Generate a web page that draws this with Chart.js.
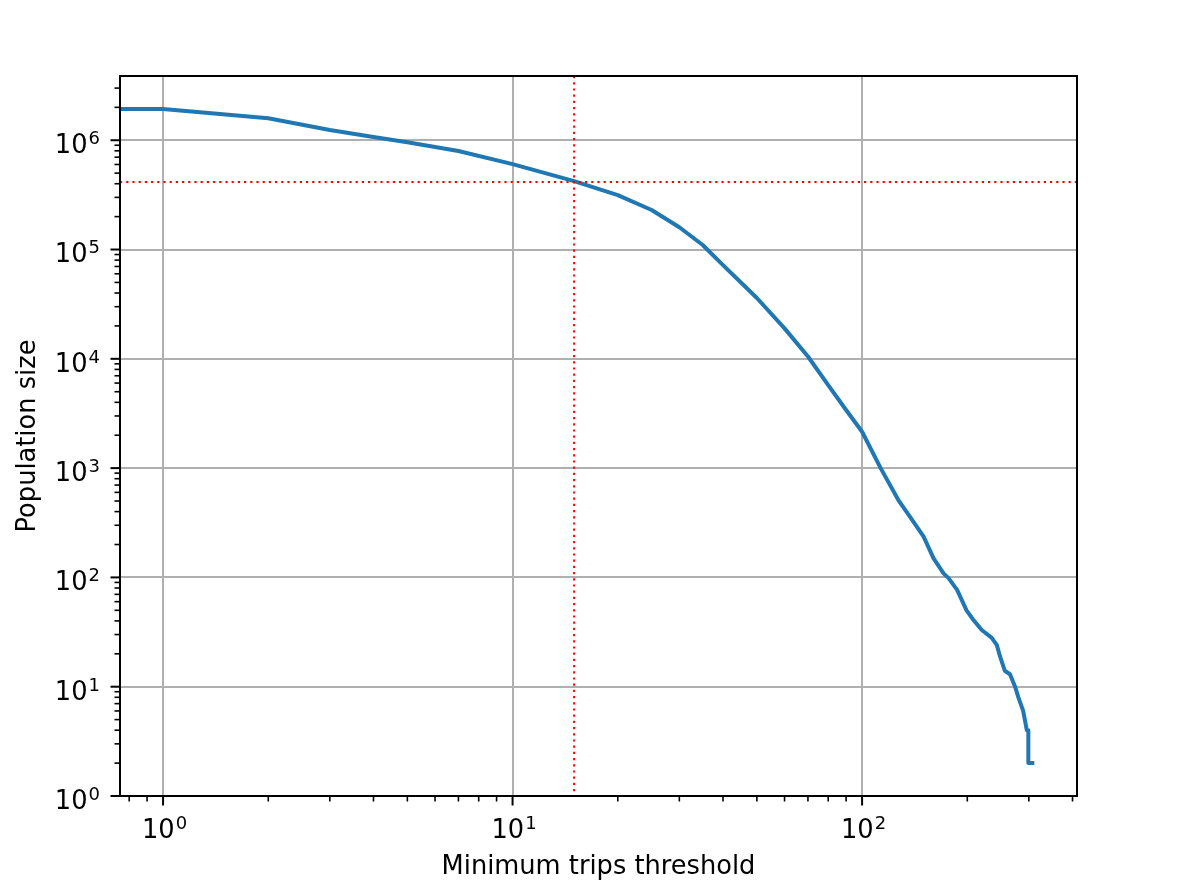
<!DOCTYPE html>
<html>
<head>
<meta charset="utf-8">
<script src="https://cdn.jsdelivr.net/npm/chart.js@4/dist/chart.umd.min.js"></script>
<style>
    body { margin: 0; background: #fff; }
    canvas { display: block; }
</style>
</head>
<body>
<canvas id="chart" width="1196" height="884"></canvas>
<script>
// minimum trips threshold (x) and resulting population size (y)
const trips = [0.5, 1, 2, 3, 4, 5, 7, 10, 15, 20, 25, 30, 35, 40, 50, 60, 70, 80, 90, 100,
    113, 127, 137, 150, 160, 171, 177, 187, 199, 208, 220, 235, 243, 248, 256, 265, 274, 280, 289, 296, 299, 299, 311];
const population = [1930000, 1930000, 1590000, 1240000, 1070000, 960000, 796000, 605000, 422000, 315000,
    230000, 160000, 110000, 72000, 36000, 19000, 10500, 5750, 3400, 2150,
    1000, 510, 360, 236, 150, 109, 98, 77, 50, 41, 33, 28, 24, 19, 14, 13, 10, 8, 6, 4, 4, 2, 2];

// chosen threshold, shown by the red dotted lines
const threshold = 15;
const populationAtThreshold = 414000;

const xDecades = [1, 10, 100];
const xTickLabels = ['10^0', '10^1', '10^2'];
const yDecades = [1, 10, 100, 1000, 10000, 100000, 1000000];
const yTickLabels = ['10^0', '10^1', '10^2', '10^3', '10^4', '10^5', '10^6'];

const FAMILY = 'DejaVu Sans';
const SIZE = 25.7;
const FONT = { family: FAMILY, size: SIZE };

function logTicks(decades, min, max) {
    const ticks = [];
    const all = [decades[0] / 10, ...decades];
    all.forEach(d => {
        for (let k = 1; k <= 9; k++) {
            const v = d * k;
            if (v >= min && v <= max) ticks.push({ value: v });
        }
    });
    return ticks;
}

const isMajor = (v, decades) => decades.includes(v);

// draws "10" with a smaller raised exponent, like matplotlib mathtext
function drawPower(ctx, label, x, baseline, align) {
    const [base, exp] = label.split('^');
    const mainFont = `${SIZE}px "${FAMILY}"`;
    const supFont = `${SIZE * 0.7}px "${FAMILY}"`;
    ctx.font = mainFont;
    const w1 = ctx.measureText(base).width;
    ctx.font = supFont;
    const w2 = ctx.measureText(exp).width;
    const start = align === 'right' ? x - w1 - w2 : x - (w1 + w2) / 2;
    ctx.textAlign = 'left';
    ctx.textBaseline = 'alphabetic';
    ctx.fillStyle = '#000';
    ctx.font = mainFont;
    ctx.fillText(base, start, baseline);
    ctx.font = supFont;
    ctx.fillText(exp, start + w1 + 1, baseline - 9);
}

const axesDecor = {
    id: 'axesDecor',
    afterDatasetsDraw(chart) {
        const { ctx, chartArea: a, scales: { x, y } } = chart;
        const tx = x.getPixelForValue(threshold);
        const ty = y.getPixelForValue(populationAtThreshold);
        ctx.save();
        ctx.beginPath();
        ctx.rect(a.left, a.top, a.right - a.left, a.bottom - a.top);
        ctx.clip();
        ctx.strokeStyle = '#ff0000';
        ctx.lineWidth = 2;
        ctx.setLineDash([2.2, 4]);
        ctx.beginPath();
        ctx.moveTo(tx, a.top);
        ctx.lineTo(tx, a.bottom);
        ctx.moveTo(a.left, ty);
        ctx.lineTo(a.right, ty);
        ctx.stroke();
        ctx.restore();
    },
    afterDraw(chart) {
        const { ctx, chartArea: a, scales: { x, y } } = chart;
        ctx.save();
        ctx.strokeStyle = '#000';
        x.ticks.forEach(t => {
            const major = isMajor(t.value, xDecades);
            const px = x.getPixelForValue(t.value);
            ctx.lineWidth = major ? 2 : 1.6;
            ctx.beginPath();
            ctx.moveTo(px, a.bottom);
            ctx.lineTo(px, a.bottom + (major ? 9.5 : 5.5));
            ctx.stroke();
            if (major) {
                drawPower(ctx, xTickLabels[xDecades.indexOf(t.value)], px + 1, a.bottom + 41.5, 'center');
            }
        });
        y.ticks.forEach(t => {
            const major = isMajor(t.value, yDecades);
            const py = y.getPixelForValue(t.value);
            ctx.lineWidth = major ? 2 : 1.6;
            ctx.beginPath();
            ctx.moveTo(a.left, py);
            ctx.lineTo(a.left - (major ? 9.5 : 5.5), py);
            ctx.stroke();
            if (major) {
                drawPower(ctx, yTickLabels[yDecades.indexOf(t.value)], a.left - 21, py + 12.8, 'right');
            }
        });
        ctx.lineWidth = 2;
        ctx.strokeRect(a.left, a.top, a.right - a.left, a.bottom - a.top);
        ctx.restore();
    }
};

new Chart(document.getElementById('chart'), {
    type: 'line',
    data: {
        datasets: [{
            data: trips.map((t, i) => ({ x: t, y: population[i] })),
            borderColor: '#1f77b4',
            borderWidth: 4,
            borderJoinStyle: 'round',
            pointRadius: 0,
            tension: 0,
            fill: false
        }]
    },
    options: {
        responsive: false,
        animation: false,
        devicePixelRatio: 1,
        layout: { padding: { top: 76, right: 119, bottom: 0, left: 0 } },
        plugins: { legend: { display: false }, tooltip: { enabled: false } },
        scales: {
            x: {
                type: 'logarithmic',
                min: 0.753,
                max: 412,
                afterFit: scale => { scale.height = 88; },
                afterBuildTicks: scale => { scale.ticks = logTicks(xDecades, 0.753, 412); },
                border: { display: false },
                grid: {
                    drawTicks: false,
                    lineWidth: 2,
                    color: c => (c.tick && isMajor(c.tick.value, xDecades)) ? '#b0b0b0' : 'rgba(0,0,0,0)'
                },
                ticks: { display: false },
                title: {
                    display: true,
                    text: 'Minimum trips threshold',
                    color: '#000',
                    font: FONT,
                    padding: { top: 0, bottom: 1 }
                }
            },
            y: {
                type: 'logarithmic',
                min: 1,
                max: 3870000,
                afterFit: scale => { scale.width = 120; },
                afterBuildTicks: scale => { scale.ticks = logTicks(yDecades, 1, 3870000); },
                border: { display: false },
                grid: {
                    drawTicks: false,
                    lineWidth: 2,
                    color: c => (c.tick && isMajor(c.tick.value, yDecades)) ? '#b0b0b0' : 'rgba(0,0,0,0)'
                },
                ticks: { display: false },
                title: {
                    display: true,
                    text: 'Population size',
                    color: '#000',
                    font: FONT,
                    padding: { top: 13, bottom: 0 }
                }
            }
        }
    },
    plugins: [axesDecor]
});
</script>
</body>
</html>
